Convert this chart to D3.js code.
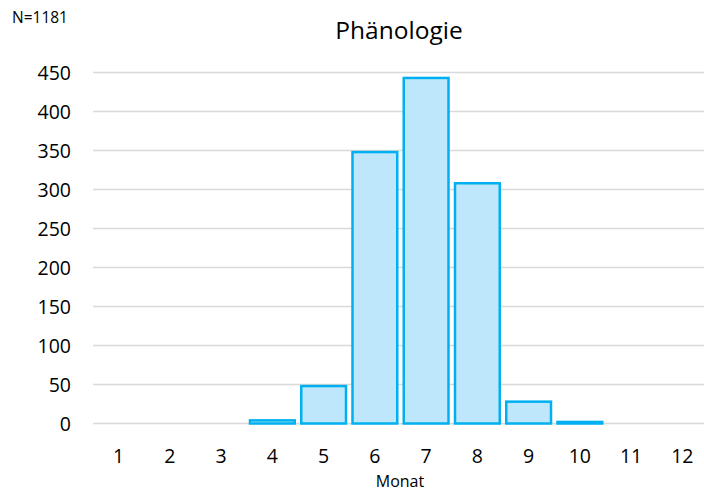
<!DOCTYPE html>
<html>
<head>
<meta charset="utf-8">
<script src="https://cdn.jsdelivr.net/npm/d3@7"></script>
<style>
  body { margin: 0; background: #fff; }
  text { font-family: "Open Sans", "Noto Sans", sans-serif; fill: #000; }
</style>
</head>
<body>
<div id="chart"></div>
<script>
const months = ["1", "2", "3", "4", "5", "6", "7", "8", "9", "10", "11", "12"];
const counts = [0, 0, 0, 4, 48, 348, 443, 308, 28, 2, 0, 0];
const yTicks = [0, 50, 100, 150, 200, 250, 300, 350, 400, 450];

const width = 704;
const height = 492;
const plotLeft = 93, plotRight = 708, plotTop = 72.5, plotBottom = 423.5;

const svg = d3.select("#chart")
    .append("svg")
    .attr("width", width)
    .attr("height", height)

const x = d3.scaleBand()
    .domain(months)
    .range([plotLeft, plotRight])
    .paddingInner(0.08)
    .paddingOuter(0.04)

const y = d3.scaleLinear()
    .domain([0, 450])
    .range([plotBottom, plotTop])

// gridlines
svg.append("g")
    .selectAll("line")
    .data(yTicks)
    .join("line")
    .attr("x1", plotLeft)
    .attr("x2", plotRight)
    .attr("y1", d => y(d))
    .attr("y2", d => y(d))
    .style("stroke", "#d9d9d9")
    .style("stroke-width", 1.5)

// y labels
svg.append("g")
    .selectAll("text")
    .data(yTicks)
    .join("text")
    .attr("x", 71)
    .attr("y", d => y(d) + 7)
    .attr("text-anchor", "end")
    .attr("font-size", 19.5)
    .text(d => d)

// bars
svg.append("g")
    .selectAll("rect")
    .data(counts.map((c, i) => ({ m: months[i], c: c })).filter(d => d.c > 0))
    .join("rect")
    .attr("x", d => x(d.m) + 1.2)
    .attr("width", x.bandwidth() - 2.4)
    .attr("y", d => y(d.c))
    .attr("height", d => y(0) - y(d.c))
    .style("fill", "#bfe7fb")
    .style("stroke", "#00b0f0")
    .style("stroke-width", 2.5)

// x labels
svg.append("g")
    .selectAll("text")
    .data(months)
    .join("text")
    .attr("x", d => x(d) + x.bandwidth() / 2)
    .attr("y", 463)
    .attr("text-anchor", "middle")
    .attr("font-size", 19.5)
    .text(d => d)

svg.append("text")
    .attr("x", 400)
    .attr("y", 487)
    .attr("text-anchor", "middle")
    .attr("font-size", 16)
    .text("Monat")

svg.append("text")
    .attr("x", 399)
    .attr("y", 39)
    .attr("text-anchor", "middle")
    .attr("font-size", 24.5)
    .text("Phänologie")

svg.append("text")
    .attr("x", 12)
    .attr("y", 23)
    .attr("font-size", 15.5)
    .text("N=1181")
</script>
</body>
</html>
